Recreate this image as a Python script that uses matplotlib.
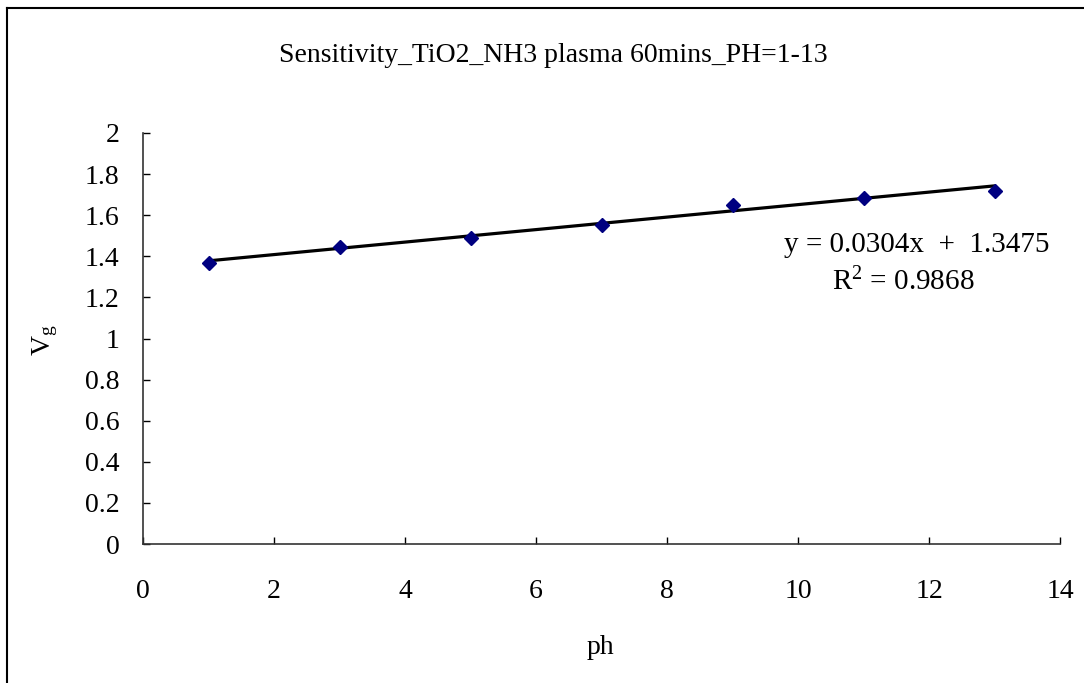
import numpy as np
import matplotlib
matplotlib.use("Agg")
import matplotlib.pyplot as plt
from matplotlib.lines import Line2D

# data
ph = [1, 3, 5, 7, 9, 11, 13]
vg = [1.367, 1.445, 1.489, 1.552, 1.650, 1.684, 1.718]
slope, intercept = 0.0304, 1.3475
r2 = 0.9868

x_ticks = list(range(0, 15, 2))
y_ticks = [0, 0.2, 0.4, 0.6, 0.8, 1, 1.2, 1.4, 1.6, 1.8, 2]
y_tick_labels = ["0", "0.2", "0.4", "0.6", "0.8", "1", "1.2", "1.4", "1.6", "1.8", "2"]

plt.rcParams["font.family"] = ["Liberation Serif", "DejaVu Serif"]
plt.rcParams["mathtext.fontset"] = "custom"
plt.rcParams["mathtext.rm"] = "Liberation Serif"
plt.rcParams["mathtext.it"] = "Liberation Serif:italic"

fs = 20

fig = plt.figure(figsize=(10.84, 6.83), dpi=100)
ax = fig.add_axes([143 / 1084, 1 - 544 / 683, (1060 - 143) / 1084, (544 - 133) / 683])

# frame round the chart area (only left and top edges are visible)
fig.add_artist(Line2D([7 / 1084, 7 / 1084], [0, 1 - 8 / 683], color="black", lw=1.5))
fig.add_artist(Line2D([7 / 1084, 1], [1 - 8 / 683, 1 - 8 / 683], color="black", lw=1.5))

fit_x = np.array([ph[0], ph[-1]])
ax.plot(fit_x, slope * fit_x + intercept, color="black", lw=2.3, zorder=2)
ax.plot(ph, vg, linestyle="none", marker="D", ms=7, color="#000080", zorder=3)

ax.set_xlim(0, 14)
ax.set_ylim(0, 2)
ax.set_xticks(x_ticks)
ax.set_yticks(y_ticks)
ax.set_yticklabels(y_tick_labels)
ax.tick_params(direction="in", length=5, width=1, colors="black", labelsize=fs)
ax.tick_params(axis="x", pad=25)
ax.tick_params(axis="y", pad=17)

for side in ["top", "right"]:
    ax.spines[side].set_visible(False)
for side in ["left", "bottom"]:
    ax.spines[side].set_color("#333333")
    ax.spines[side].set_linewidth(1.2)

fig.text(553 / 1084, 1 - 55 / 683, "Sensitivity_TiO2_NH3 plasma 60mins_PH=1-13",
         ha="center", va="center", fontsize=fs)
fig.text(600 / 1084, 1 - 648 / 683, "ph", ha="center", va="center", fontsize=fs)
fig.text(45 / 1084, 1 - 340 / 683, r"V$_\mathrm{g}$", ha="center", va="center",
         rotation=90, fontsize=fs)

ax.text(917 / 1084, 1 - 245 / 683, f"y = {slope}x  +  {intercept}", transform=fig.transFigure,
        ha="center", va="center", fontsize=fs + 1)
ax.text(903 / 1084, 1 - 282 / 683, r"R$^\mathrm{2}$ = " + f"{r2}", transform=fig.transFigure,
        ha="center", va="center", fontsize=fs + 1)

fig.savefig("out.png", dpi=100, facecolor="white")
